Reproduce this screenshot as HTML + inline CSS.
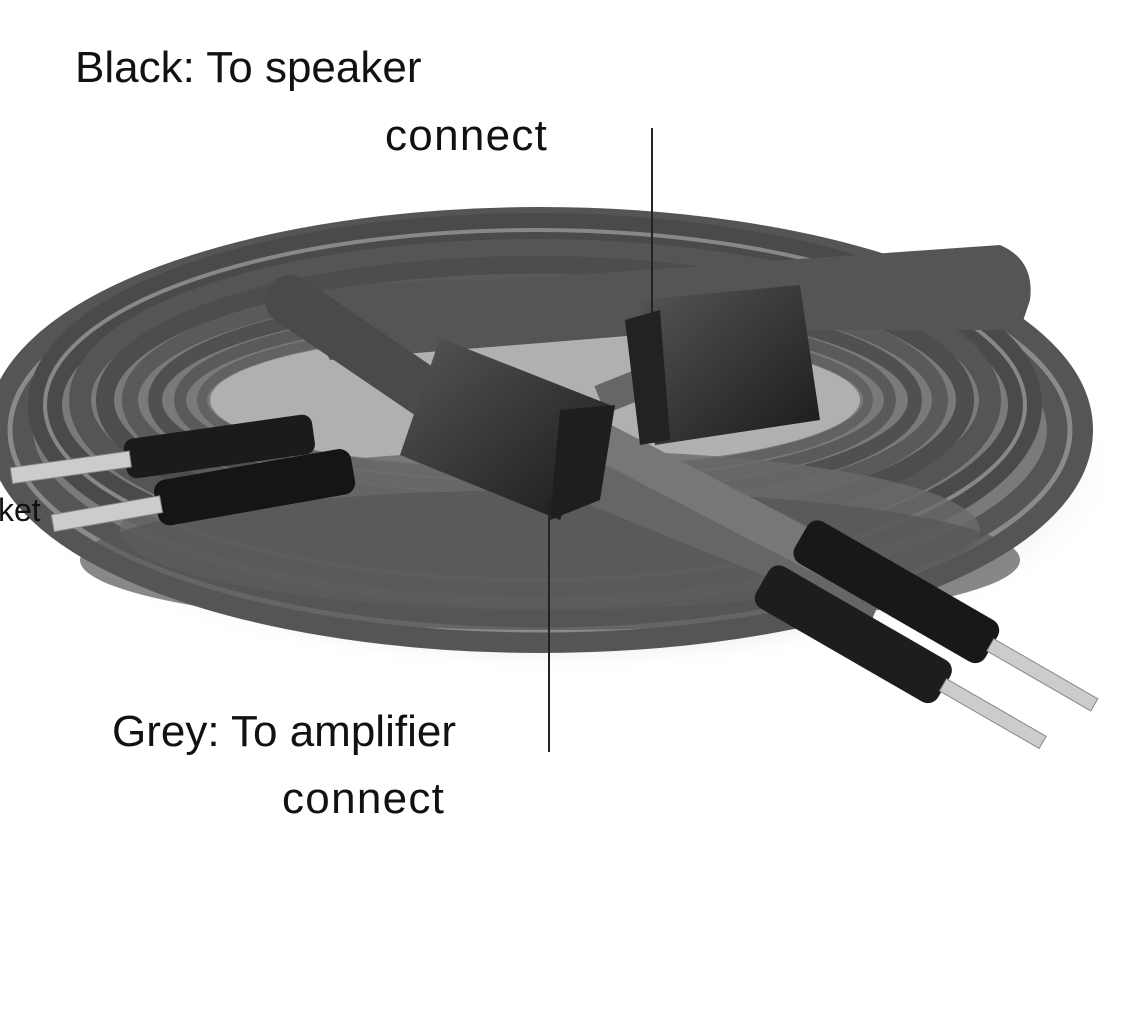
<!DOCTYPE html>
<html><head><meta charset="utf-8"><style>
html,body{margin:0;padding:0;background:#fff;width:1125px;height:1032px;overflow:hidden}
.t{position:absolute;font-family:"Liberation Sans",sans-serif;font-size:44px;color:#111;white-space:nowrap;line-height:1}
</style></head><body>
<svg width="1125" height="1032" style="position:absolute;left:0;top:0">
<defs>
<radialGradient id="sh" cx="0.5" cy="0.5" r="0.5"><stop offset="0.7" stop-color="#bbb"/><stop offset="1" stop-color="#fff" stop-opacity="0"/></radialGradient>
<linearGradient id="blk" x1="0" y1="0" x2="1" y2="1"><stop offset="0" stop-color="#555"/><stop offset="1" stop-color="#1a1a1a"/></linearGradient>
</defs>
<ellipse cx="560" cy="470" rx="560" ry="205" fill="url(#sh)"/>
<ellipse cx="540" cy="425" rx="540" ry="210" fill="#7a7a7a"/>
<g fill="none">
<ellipse cx="540" cy="430" rx="530" ry="200" stroke="#555" stroke-width="46"/>
<ellipse cx="540" cy="430" rx="530" ry="200" stroke="#8a8a8a" stroke-width="5"/>
<ellipse cx="535" cy="405" rx="490" ry="175" stroke="#4a4a4a" stroke-width="34"/>
<ellipse cx="535" cy="405" rx="490" ry="175" stroke="#888" stroke-width="4"/>
<ellipse cx="535" cy="400" rx="455" ry="150" stroke="#555" stroke-width="22"/>
<ellipse cx="535" cy="400" rx="430" ry="135" stroke="#4d4d4d" stroke-width="18"/>
<ellipse cx="535" cy="400" rx="405" ry="118" stroke="#5a5a5a" stroke-width="16"/>
<ellipse cx="535" cy="400" rx="380" ry="102" stroke="#505050" stroke-width="14"/>
<ellipse cx="535" cy="400" rx="355" ry="88" stroke="#5a5a5a" stroke-width="12"/>
<ellipse cx="535" cy="400" rx="333" ry="75" stroke="#626262" stroke-width="10"/>
</g>
<ellipse cx="535" cy="400" rx="325" ry="68" fill="#b0b0b0"/>
<ellipse cx="550" cy="530" rx="430" ry="80" fill="#6a6a6a" opacity="0.8"/>
<ellipse cx="550" cy="560" rx="470" ry="70" fill="#555" opacity="0.7"/>
<path d="M300 300 Q320 280 500 280 L1000 245 Q1035 260 1030 300 L1020 330 L700 330 L330 360 Z" fill="#555"/>
<path d="M290 300 L540 470" stroke="#4a4a4a" stroke-width="50" stroke-linecap="round"/>
<path d="M560 470 L880 600" stroke="#666" stroke-width="42"/>
<path d="M580 430 L830 560" stroke="#777" stroke-width="38"/>
<path d="M600 400 L700 360" stroke="#666" stroke-width="30"/>
<polygon points="640,300 800,285 820,420 655,445" fill="url(#blk)"/>
<polygon points="625,320 660,310 670,440 640,445" fill="#222"/>
<polygon points="440,338 610,405 560,520 400,455" fill="url(#blk)"/>
<polygon points="560,410 615,405 600,500 550,520" fill="#1e1e1e"/>
<g transform="rotate(-8 230 450)">
<rect x="125" y="425" width="190" height="40" rx="10" fill="#1b1b1b"/>
<rect x="10" y="437" width="120" height="16" fill="#ccc" stroke="#888"/>
</g>
<g transform="rotate(-10 250 490)">
<rect x="155" y="465" width="200" height="46" rx="12" fill="#151515"/>
<rect x="50" y="480" width="110" height="17" fill="#ccc" stroke="#888"/>
</g>
<g transform="rotate(30 880 580)">
<rect x="790" y="558" width="220" height="48" rx="12" fill="#181818"/>
<rect x="1008" y="574" width="120" height="14" fill="#ccc" stroke="#888"/>
</g>
<g transform="rotate(30 850 630)">
<rect x="750" y="608" width="210" height="48" rx="12" fill="#1d1d1d"/>
<rect x="958" y="624" width="115" height="14" fill="#ccc" stroke="#888"/>
</g>
<line x1="652" y1="128" x2="652" y2="385" stroke="#222" stroke-width="2"/>
<line x1="549" y1="500" x2="549" y2="752" stroke="#222" stroke-width="2"/>
</svg>
<div class="t" style="left:75px;top:46px">Black: To speaker</div>
<div class="t" style="left:385px;top:114px;letter-spacing:1.3px">connect</div>
<div class="t" style="left:112px;top:710px">Grey: To amplifier</div>
<div class="t" style="left:282px;top:777px;letter-spacing:1.3px">connect</div>
<div class="t" style="left:-2px;top:494px;font-size:32px">ket</div>
</body></html>
